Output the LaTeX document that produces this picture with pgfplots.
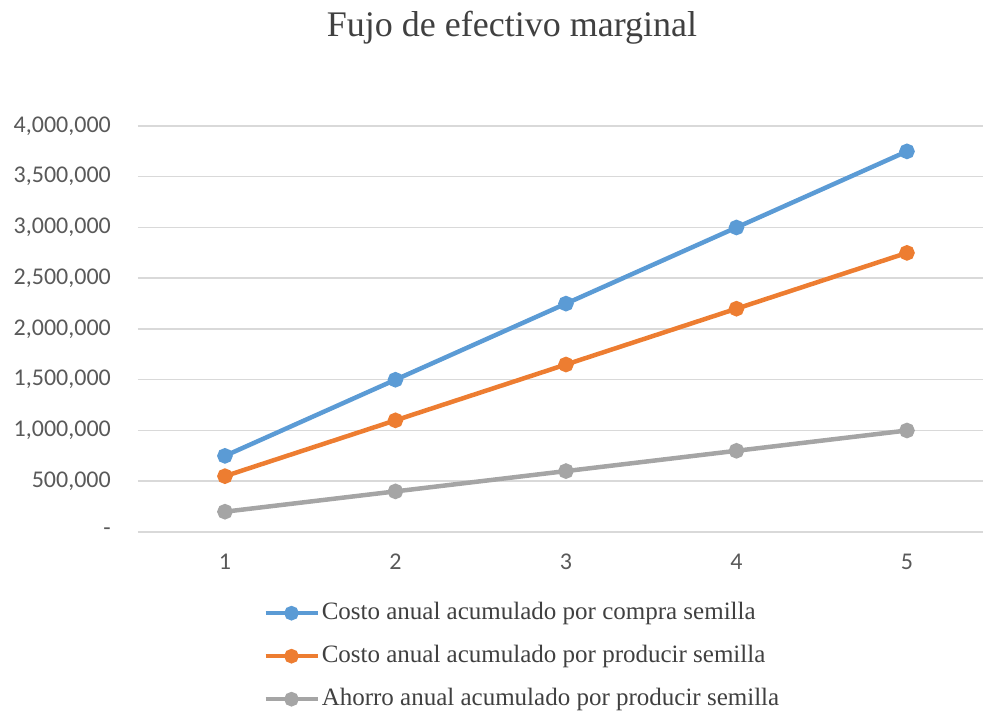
\documentclass[border=0pt]{standalone}
\usepackage{fontspec}
\setmainfont{Liberation Serif}
\newfontfamily\tickfont{Carlito}
\usepackage{pgfplots}
\pgfplotsset{compat=1.18}
\definecolor{cblue}{HTML}{5B9BD5}
\definecolor{corange}{HTML}{ED7D31}
\definecolor{cgray}{HTML}{A5A5A5}
\definecolor{gridgray}{HTML}{D9D9D9}
\definecolor{tickgray}{HTML}{595959}
\definecolor{textgray}{HTML}{404040}
\begin{document}
\begin{tikzpicture}
\useasboundingbox (-138pt,-179pt) rectangle (845pt,532pt);
\begin{axis}[
  at={(0pt,0pt)}, anchor=south west,
  scale only axis, width=845pt, height=406pt,
  xmin=0.49, xmax=5.446, ymin=0, ymax=4000000,
  xtick={1,2,3,4,5}, xticklabels={1,2,3,4,5},
  ytick={0,500000,1000000,1500000,2000000,2500000,3000000,3500000,4000000},
  yticklabels={{-\hspace{10pt}},{500,000},{1,000,000},{1,500,000},{2,000,000},{2,500,000},{3,000,000},{3,500,000},{4,000,000}},
  scaled y ticks=false,
  ymajorgrids, grid style={color=gridgray, line width=1.5pt},
  axis line style={draw=none},
  major tick length=0pt, tick style={draw=none},
  ticklabel style={font=\tickfont\fontsize{24}{28}\selectfont, text=tickgray, inner sep=0pt},
  yticklabel style={xshift=-27pt},
  xticklabel style={yshift=-22pt},
  clip=false,
  legend style={at={(0.148,-0.165)}, anchor=north west, draw=none, fill=none, inner sep=0pt,
    font=\fontsize{25}{30}\selectfont, text=textgray, row sep=15pt,
    nodes={inner sep=2pt, text height=18pt, text depth=6pt},
    cells={anchor=west}},
  legend image code/.code={\draw[#1, mark repeat=2, mark phase=2, mark size=5pt] plot coordinates {(0pt,0pt)(26pt,0pt)(52pt,0pt)};},
]
\addplot[cblue, line width=4.5pt, mark=*, mark size=5.5pt] coordinates {(1,750000)(2,1500000)(3,2250000)(4,3000000)(5,3750000)};
\addlegendentry{Costo anual acumulado por compra semilla}
\addplot[corange, line width=4.5pt, mark=*, mark size=5.5pt] coordinates {(1,550000)(2,1100000)(3,1650000)(4,2200000)(5,2750000)};
\addlegendentry{Costo anual acumulado por producir semilla}
\addplot[cgray, line width=4.5pt, mark=*, mark size=5.5pt] coordinates {(1,200000)(2,400000)(3,600000)(4,800000)(5,1000000)};
\addlegendentry{Ahorro anual acumulado por producir semilla}
\end{axis}
\node[anchor=base, font=\fontsize{36}{43}\selectfont, text=textgray] at (374pt,495pt) {Fujo de efectivo marginal};
\end{tikzpicture}
\end{document}
